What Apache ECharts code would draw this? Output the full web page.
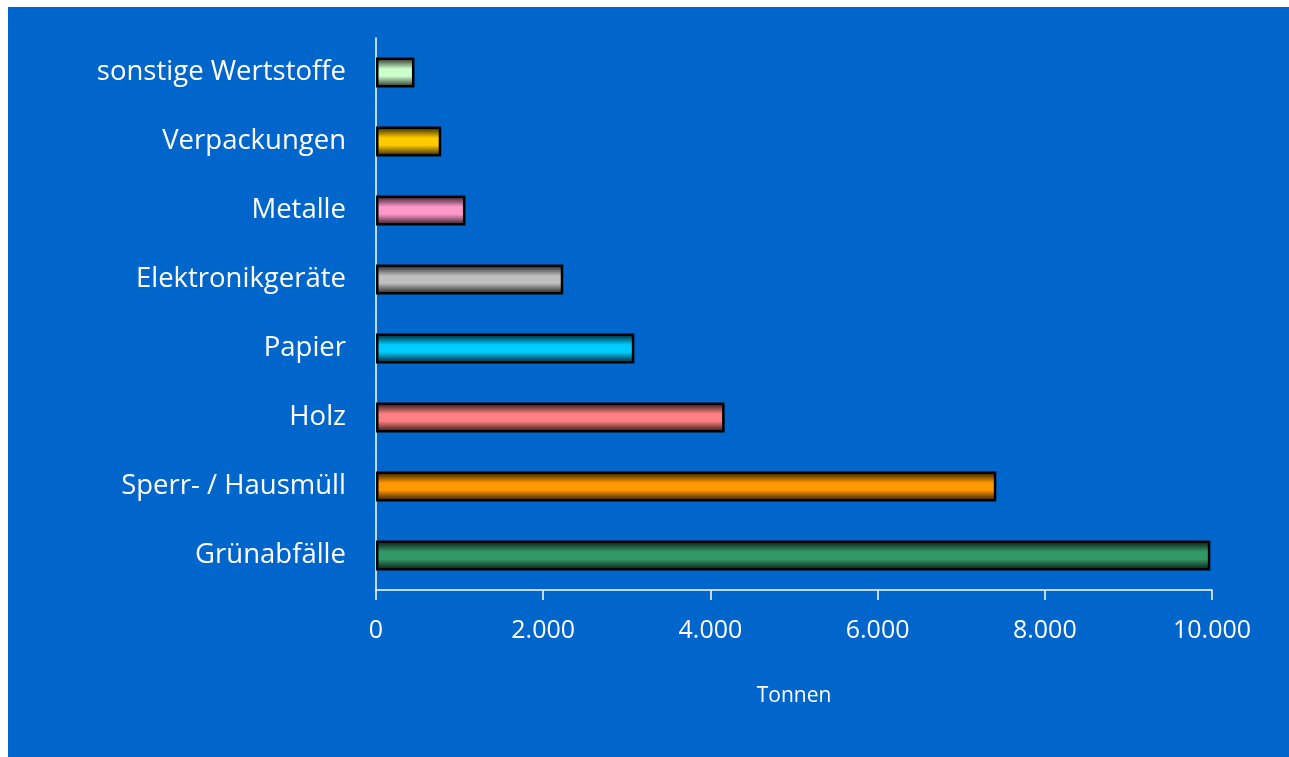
<!DOCTYPE html>
<html>
<head>
<meta charset="utf-8">
<script src="https://cdn.jsdelivr.net/npm/echarts@6/dist/echarts.min.js"></script>
<style>
html,body{margin:0;padding:0;background:#fff;}
#chart{width:1289px;height:757px;}
</style>
</head>
<body>
<div id="chart"></div>
<script>
const categories = ['Grünabfälle','Sperr- / Hausmüll','Holz','Papier','Elektronikgeräte','Metalle','Verpackungen','sonstige Wertstoffe'];
const values = [9980, 7420, 4170, 3090, 2240, 1070, 780, 460];
const barColors = ['#339966','#FF9900','#FF8080','#00CCFF','#C0C0C0','#FF99CC','#FFCC00','#CCFFCC'];
const xTicks = [0, 2000, 4000, 6000, 8000, 10000];
const axisTitle = 'Tonnen';

function shade(hex, f){
  const n = parseInt(hex.slice(1),16);
  const r = Math.round(((n>>16)&255)*f), g = Math.round(((n>>8)&255)*f), b = Math.round((n&255)*f);
  return 'rgb('+r+','+g+','+b+')';
}

const chart = echarts.init(document.getElementById('chart'));
chart.setOption({
  backgroundColor: '#ffffff',
  animation: false,
  graphic: [{
    type: 'rect', z: -10, silent: true,
    shape: {x: 8, y: 7, width: 1281, height: 750},
    style: {fill: '#0066CC'}
  }],
  grid: {left: 376, right: 77, top: 38, bottom: 167, containLabel: false},
  xAxis: {
    type: 'value',
    min: xTicks[0], max: xTicks[xTicks.length-1], interval: 2000,
    name: axisTitle, nameLocation: 'middle', nameGap: 96,
    nameTextStyle: {color: '#ffffff', fontSize: 21, fontFamily: 'Open Sans'},
    axisLine: {show: true, lineStyle: {color: '#ffffff', width: 1.5}},
    axisTick: {show: true, length: 10, lineStyle: {color: '#ffffff', width: 1.5}},
    splitLine: {show: false},
    axisLabel: {
      color: '#ffffff', fontSize: 25, fontFamily: 'Open Sans', margin: 28,
      formatter: v => v.toLocaleString('de-DE')
    }
  },
  yAxis: {
    type: 'category', data: categories,
    axisLine: {show: true, lineStyle: {color: '#ffffff', width: 1.5}},
    axisTick: {show: false},
    axisLabel: {color: '#ffffff', fontSize: 27.5, fontFamily: 'Open Sans', margin: 30}
  },
  series: [{
    type: 'bar',
    barWidth: 30,
    data: values.map((v, i) => ({
      value: v,
      itemStyle: {
        borderColor: '#000000', borderWidth: 2.5,
        color: new echarts.graphic.LinearGradient(0, 0, 0, 1, [
          {offset: 0, color: shade(barColors[i], 0.12)},
          {offset: 0.38, color: barColors[i]},
          {offset: 0.62, color: barColors[i]},
          {offset: 1, color: shade(barColors[i], 0.12)}
        ])
      }
    }))
  }]
});
</script>
</body>
</html>
